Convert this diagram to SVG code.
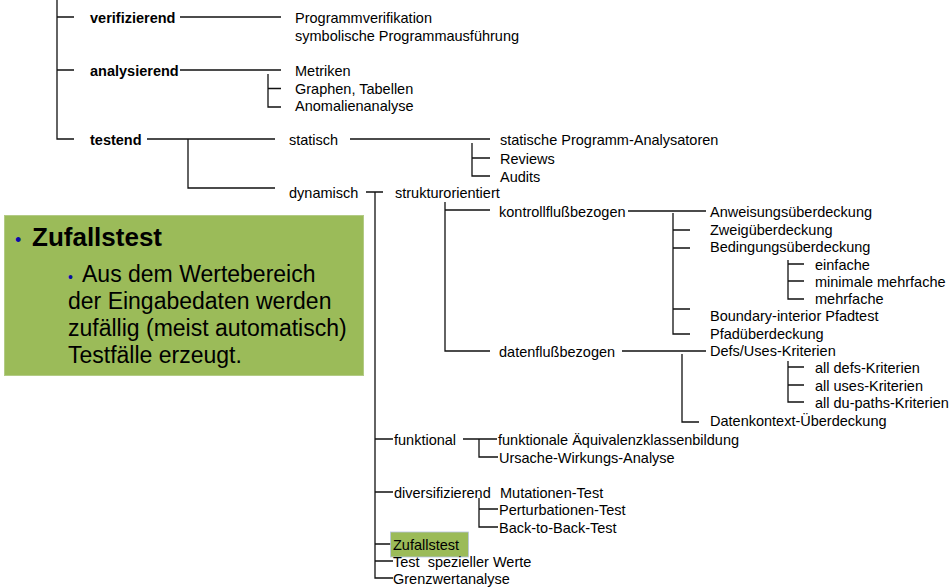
<svg xmlns="http://www.w3.org/2000/svg" width="952" height="588" viewBox="0 0 952 588">
<style>
text{font-family:"Liberation Sans",Arial,sans-serif;font-size:14.5px;fill:#000}
.b{font-weight:bold}
.c path{fill:none;stroke:#111;stroke-width:1.3}
.box text{font-size:23px}
.blt{fill:#0a0aa8}
</style>
<rect width="952" height="588" fill="#fff"/>
<g id="callout" class="box">
<rect x="4.5" y="215.5" width="359" height="160" fill="#9BBB59" stroke="#b3cb85" stroke-width="1"/>
<text x="15" y="246" class="blt" style="font-size:18px">•</text>
<text x="32" y="246" class="b" style="font-size:26px">Zufallstest</text>
<text x="68" y="282" class="blt" style="font-size:14px">•</text>
<text x="82" y="282">Aus dem Wertebereich</text>
<text x="68" y="309">der Eingabedaten werden</text>
<text x="68" y="336">zufällig (meist automatisch)</text>
<text x="68" y="363">Testfälle erzeugt.</text>
</g>
<g id="connectors" class="c">
<path d="M57 0V139H74M57 17H74M57 70H74"/>
<path d="M180 17H281"/>
<path d="M180 70H281M268 74V107H281M268 88.5H281"/>
<path d="M147 139H275M188 139V188H275"/>
<path d="M350 139H490M472 143V176H490M472 158H490"/>
<path d="M366 192H383M375 192V578H393"/>
<path d="M445 202V351H490M445 210H490"/>
<path d="M628 211H706M673 213V334H690M673 230H690M673 248H690M673 309H690"/>
<path d="M788 260V299H804M788 264H804M788 281H804"/>
<path d="M622 351H706M682 354V422H699"/>
<path d="M788 361V402H804M788 367H804M788 385H804"/>
<path d="M375 439H393M463 439H497M479 439V457H498"/>
<path d="M375 492H393M479 498V527H498M479 509H498"/>
<path d="M375 544H393M375 561H393"/>
</g>
<g id="n-verifizierend"><text x="90" y="22.5" class="b">verifizierend</text></g>
<g id="n-analysierend"><text x="90" y="75.5" class="b">analysierend</text></g>
<g id="n-testend"><text x="90" y="144.5" class="b">testend</text></g>
<g id="n-pv"><text x="295" y="22.5">Programmverifikation</text></g>
<g id="n-spa"><text x="295" y="40.5">symbolische Programmausführung</text></g>
<g id="n-metriken"><text x="295" y="75.5">Metriken</text></g>
<g id="n-graphen"><text x="295" y="93.5">Graphen, Tabellen</text></g>
<g id="n-anomalie"><text x="295" y="110.5">Anomalienanalyse</text></g>
<g id="n-statisch"><text x="289" y="144.5">statisch</text></g>
<g id="n-dynamisch"><text x="289" y="197.5">dynamisch</text></g>
<g id="n-spaz"><text x="500" y="144.5">statische Programm-Analysatoren</text></g>
<g id="n-reviews"><text x="500" y="163.5">Reviews</text></g>
<g id="n-audits"><text x="500" y="181.5">Audits</text></g>
<g id="n-struktur"><text x="395" y="197.5">strukturorientiert</text></g>
<g id="n-kontroll"><text x="499" y="216.5">kontrollflußbezogen</text></g>
<g id="n-daten"><text x="499" y="356.5">datenflußbezogen</text></g>
<g id="n-anw"><text x="710" y="216.5">Anweisungsüberdeckung</text></g>
<g id="n-zweig"><text x="710" y="234.5">Zweigüberdeckung</text></g>
<g id="n-bed"><text x="710" y="251.5">Bedingungsüberdeckung</text></g>
<g id="n-einfache"><text x="815" y="269.5">einfache</text></g>
<g id="n-minimale"><text x="815" y="286.5">minimale mehrfache</text></g>
<g id="n-mehrfache"><text x="815" y="303.5">mehrfache</text></g>
<g id="n-boundary"><text x="710" y="320.5">Boundary-interior Pfadtest</text></g>
<g id="n-pfad"><text x="710" y="338.5">Pfadüberdeckung</text></g>
<g id="n-defs"><text x="710" y="355.5">Defs/Uses-Kriterien</text></g>
<g id="n-alldefs"><text x="815" y="372.5">all defs-Kriterien</text></g>
<g id="n-alluses"><text x="815" y="390.5">all uses-Kriterien</text></g>
<g id="n-alldu"><text x="815" y="407.5">all du-paths-Kriterien</text></g>
<g id="n-datenkontext"><text x="710" y="425.5">Datenkontext-Überdeckung</text></g>
<g id="n-funktional"><text x="394" y="444.5">funktional</text></g>
<g id="n-aequi"><text x="498" y="444.5">funktionale Äquivalenzklassenbildung</text></g>
<g id="n-ursache"><text x="499" y="462.5">Ursache-Wirkungs-Analyse</text></g>
<g id="n-divers"><text x="394" y="497.5">diversifizierend</text></g>
<g id="n-mutation"><text x="500" y="497.5">Mutationen-Test</text></g>
<g id="n-perturb"><text x="499" y="514.5">Perturbationen-Test</text></g>
<g id="n-b2b"><text x="499" y="532.5">Back-to-Back-Test</text></g>
<g id="n-zufall"><rect x="390.5" y="532" width="78" height="25" fill="#9BBB59" stroke="#b7c2e0" stroke-width="0.8"/><text x="393" y="549.5">Zufallstest</text></g>
<g id="n-spezial"><text x="393" y="566.5" style="white-space:pre">Test  spezieller Werte</text></g>
<g id="n-grenz"><text x="393" y="583.5">Grenzwertanalyse</text></g>
</svg>
